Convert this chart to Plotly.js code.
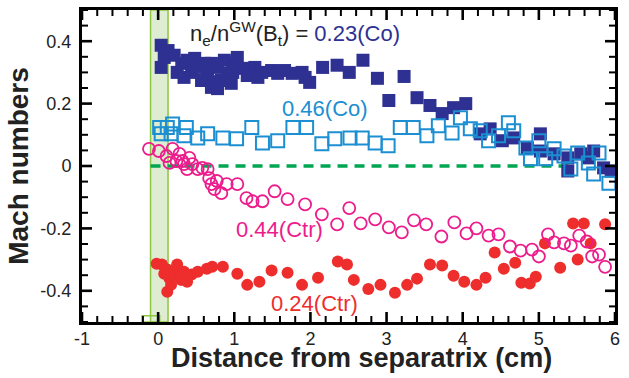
<!DOCTYPE html>
<html>
<head>
<meta charset="utf-8">
<script src="https://cdn.plot.ly/plotly-3.0.1.min.js"></script>
<style>html,body{margin:0;padding:0;background:#fff}#chart{width:629px;height:378px}</style>
</head>
<body>
<div id="chart"></div>
<script>
// 0.23(Co) filled navy squares
const co23X = [0.04,0.08,0.04,0.13,0.21,0.25,0.31,0.34,0.38,0.44,0.48,0.52,0.57,0.61,0.65,0.70,0.70,0.74,0.78,0.78,0.83,0.87,0.91,0.96,0.98,1.00,1.04,1.14,1.17,1.27,1.31,1.36,1.49,1.57,1.66,1.76,1.89,1.93,1.99,2.16,2.35,2.51,2.69,2.88,3.03,3.23,3.40,3.57,3.73,3.88,4.04,4.23,4.36,4.52,4.67,4.85,5.02,5.02,5.20,5.38,5.38,5.55,5.64,5.72,5.85,5.95];
const co23Y = [0.387,0.348,0.316,0.370,0.355,0.300,0.329,0.284,0.339,0.300,0.345,0.316,0.274,0.329,0.297,0.252,0.329,0.270,0.248,0.316,0.274,0.339,0.297,0.265,0.300,0.329,0.348,0.313,0.290,0.316,0.284,0.300,0.306,0.297,0.306,0.297,0.300,0.284,0.268,0.316,0.323,0.300,0.339,0.281,0.210,0.287,0.219,0.194,0.168,0.187,0.200,0.103,0.119,0.081,0.090,0.058,0.103,0.048,0.039,0.026,-0.016,0.039,0.026,0.048,-0.006,-0.016];
// 0.46(Co) open light-blue squares
const co46X = [0.02,0.04,0.12,0.17,0.19,0.34,0.37,0.52,0.65,0.85,1.03,1.23,1.37,1.57,1.77,1.95,2.15,2.32,2.52,2.68,2.85,3.02,3.18,3.35,3.53,3.68,3.86,3.97,4.10,4.23,4.34,4.47,4.60,4.67,4.83,4.89,5.00,5.09,5.20,5.33,5.42,5.51,5.65,5.72,5.79,5.92];
const co46Y = [0.123,0.103,0.123,0.103,0.135,0.097,0.123,0.090,0.103,0.090,0.087,0.123,0.074,0.081,0.123,0.123,0.071,0.087,0.090,0.090,0.074,0.065,0.123,0.123,0.097,0.129,0.106,0.155,0.119,0.113,0.081,0.097,0.139,0.113,0.058,0.023,0.081,0.023,0.055,0.032,-0.010,0.042,0.010,-0.026,0.042,-0.055];
// 0.44(Ctr) open magenta circles
const ctr44X = [-0.12,0.01,0.11,0.15,0.19,0.24,0.28,0.32,0.34,0.38,0.41,0.45,0.52,0.58,0.65,0.67,0.70,0.74,0.77,0.83,0.90,1.04,1.16,1.24,1.37,1.53,1.70,1.93,2.15,2.35,2.51,2.66,2.85,3.03,3.20,3.36,3.52,3.72,3.89,4.05,4.18,4.34,4.47,4.62,4.76,4.91,5.00,5.12,5.20,5.33,5.42,5.53,5.63,5.70,5.79,5.87];
const ctr44Y = [0.055,0.048,0.032,0.010,0.055,0.016,0.039,0.016,0.006,-0.010,0.026,0.006,-0.010,-0.006,-0.010,-0.039,-0.058,-0.074,-0.048,-0.087,-0.058,-0.058,-0.103,-0.113,-0.113,-0.081,-0.106,-0.123,-0.155,-0.187,-0.135,-0.184,-0.171,-0.197,-0.213,-0.174,-0.187,-0.226,-0.181,-0.216,-0.200,-0.223,-0.219,-0.258,-0.271,-0.268,-0.290,-0.219,-0.245,-0.248,-0.255,-0.223,-0.242,-0.290,-0.284,-0.323];
// 0.24(Ctr) filled red circles
const ctr24X = [-0.02,0.05,0.08,0.12,0.12,0.15,0.17,0.21,0.25,0.28,0.30,0.34,0.38,0.44,0.52,0.64,0.71,0.85,1.04,1.17,1.33,1.49,1.70,1.89,2.10,2.36,2.48,2.57,2.76,2.92,3.11,3.27,3.40,3.57,3.73,3.88,4.02,4.18,4.30,4.42,4.54,4.69,4.77,4.88,4.96,5.08,5.28,5.45,5.51,5.59,5.68,5.87];
const ctr24Y = [-0.313,-0.316,-0.345,-0.332,-0.403,-0.361,-0.381,-0.348,-0.316,-0.345,-0.365,-0.339,-0.371,-0.348,-0.339,-0.329,-0.323,-0.323,-0.345,-0.381,-0.371,-0.335,-0.342,-0.381,-0.358,-0.306,-0.316,-0.365,-0.394,-0.381,-0.406,-0.381,-0.361,-0.316,-0.319,-0.352,-0.371,-0.381,-0.358,-0.277,-0.329,-0.310,-0.374,-0.377,-0.355,-0.248,-0.326,-0.184,-0.300,-0.184,-0.248,-0.187];
// reference zero line and separatrix band
const zeroLineX = [-0.1, 5.4];
const zeroLineY = [0, 0];
const bandX = [-0.1, 0.13];
const stepX = [-0.21, 0.02];
const stepTop = -0.48;
const xRange = [-1, 6];
const yRange = [-0.5, 0.5];
const xTickVals = [-1,0,1,2,3,4,5,6];
const xTickText = ["-1","0","1","2","3","4","5","6"];
const yTickVals = [-0.4,-0.2,0,0.2,0.4];
const yTickText = ["-0.4","-0.2","0","0.2","0.4"];
const xMinorStep = 0.2;
const yMinorStep = 0.05;

const navy = "#2e3192", lblue = "#1b8fd2", magenta = "#ec1c8c", red = "#ee2d2d", green = "#00a651";

const traces = [
  {x: zeroLineX, y: zeroLineY, mode: "lines", line: {color: green, width: 3.5, dash: "10px,7px"}, hoverinfo: "skip"},
  {x: co23X, y: co23Y, mode: "markers", marker: {symbol: "square", size: 13, color: navy, line: {width: 0}}},
  {x: ctr24X, y: ctr24Y, mode: "markers", marker: {symbol: "circle", size: 12, color: red, line: {width: 0}}},
  {x: co46X, y: co46Y, mode: "markers", marker: {symbol: "square-open", size: 13, color: lblue, line: {width: 2, color: lblue}}},
  {x: ctr44X, y: ctr44Y, mode: "markers", marker: {symbol: "circle-open", size: 12, color: magenta, line: {width: 1.8, color: magenta}}}
];

const W = 629, H = 378, M = {l: 82, r: 14, t: 10, b: 56};
// inside tick marks on all four sides, as small filled rectangles in axis units
const xPerPx = (xRange[1] - xRange[0]) / (W - M.l - M.r);
const yPerPx = (yRange[1] - yRange[0]) / (H - M.t - M.b);
const MAJ = 10, MIN = 6;
const tickShapes = [];
function tr(x0, x1, y0, y1) {
  tickShapes.push({type: "rect", layer: "above", xref: "x", yref: "y", x0: x0, x1: x1, y0: y0, y1: y1,
    fillcolor: "#000", line: {width: 0}});
}
for (let i = Math.round(xRange[0] / xMinorStep); i <= Math.round(xRange[1] / xMinorStep); i++) {
  const v = +(i * xMinorStep).toFixed(6);
  const major = xTickVals.some(t => Math.abs(t - v) < 1e-9);
  const L = (major ? MAJ : MIN) * yPerPx, hw = (major ? 1.3 : 1) * xPerPx;
  tr(v - hw, v + hw, yRange[0], yRange[0] + L);
  tr(v - hw, v + hw, yRange[1] - L, yRange[1]);
}
for (let i = Math.round(yRange[0] / yMinorStep); i <= Math.round(yRange[1] / yMinorStep); i++) {
  const v = +(i * yMinorStep).toFixed(6);
  const major = yTickVals.some(t => Math.abs(t - v) < 1e-9);
  const L = (major ? MAJ : MIN) * xPerPx, hw = (major ? 1.3 : 1) * yPerPx;
  tr(xRange[0], xRange[0] + L, v - hw, v + hw);
  tr(xRange[1] - L, xRange[1], v - hw, v + hw);
}

const font = "'Liberation Sans', Arial, Helvetica, sans-serif";

const layout = {
  width: W, height: H,
  margin: M,
  paper_bgcolor: "#fff", plot_bgcolor: "#fff",
  showlegend: false,
  xaxis: {
    range: xRange, tickmode: "array", tickvals: xTickVals, ticktext: xTickText,
    showline: true, linewidth: 3, linecolor: "#000", mirror: true,
    ticks: "", showgrid: false, zeroline: false, ticklabelstandoff: -2,
    tickfont: {family: font, size: 18, color: "#222"}
  },
  yaxis: {
    range: yRange, tickmode: "array", tickvals: yTickVals, ticktext: yTickText,
    showline: true, linewidth: 3, linecolor: "#000", mirror: true,
    ticks: "", showgrid: false, zeroline: false, ticklabelstandoff: 4,
    tickfont: {family: font, size: 18, color: "#222"},
    title: {text: "Mach numbers", font: {family: font, size: 28, color: "#222", weight: "bold"}, standoff: 4}
  },
  shapes: [
    {type: "rect", xref: "x", yref: "y", x0: bandX[0], x1: bandX[1], y0: yRange[0], y1: yRange[1],
     fillcolor: "rgba(190,220,165,0.5)", line: {color: "#8dc63f", width: 1.5}, layer: "below"},
    {type: "rect", xref: "x", yref: "y", x0: stepX[0], x1: stepX[1], y0: yRange[0], y1: stepTop,
     fillcolor: "rgba(0,0,0,0)", line: {color: "#8dc63f", width: 1.5}, layer: "below"}
  ].concat(tickShapes),
  annotations: [
    {xref: "paper", yref: "paper", x: 0.525, y: 0, yanchor: "middle", yshift: -36, showarrow: false,
     text: "<b>Distance from separatrix (cm)</b>", font: {family: font, size: 27, color: "#222"}},
    {xref: "x", yref: "y", x: 0.39, y: 0.426, xanchor: "left", yanchor: "middle", showarrow: false,
     text: "n<sub>e</sub>/n<sup>GW</sup>(B<sub>t</sub>) = <span style='color:" + navy + "'>0.23(Co)</span>",
     font: {family: font, size: 22, color: "#222"}},
    {xref: "x", yref: "y", x: 2.19, y: 0.184, showarrow: false, text: "0.46(Co)", font: {family: font, size: 22, color: lblue}},
    {xref: "x", yref: "y", x: 1.60, y: -0.203, showarrow: false, text: "0.44(Ctr)", font: {family: font, size: 22, color: magenta}},
    {xref: "x", yref: "y", x: 2.05, y: -0.442, showarrow: false, text: "0.24(Ctr)", font: {family: font, size: 22, color: red}}
  ]
};

Plotly.newPlot("chart", traces, layout, {staticPlot: true, displayModeBar: false});
</script>
</body>
</html>
